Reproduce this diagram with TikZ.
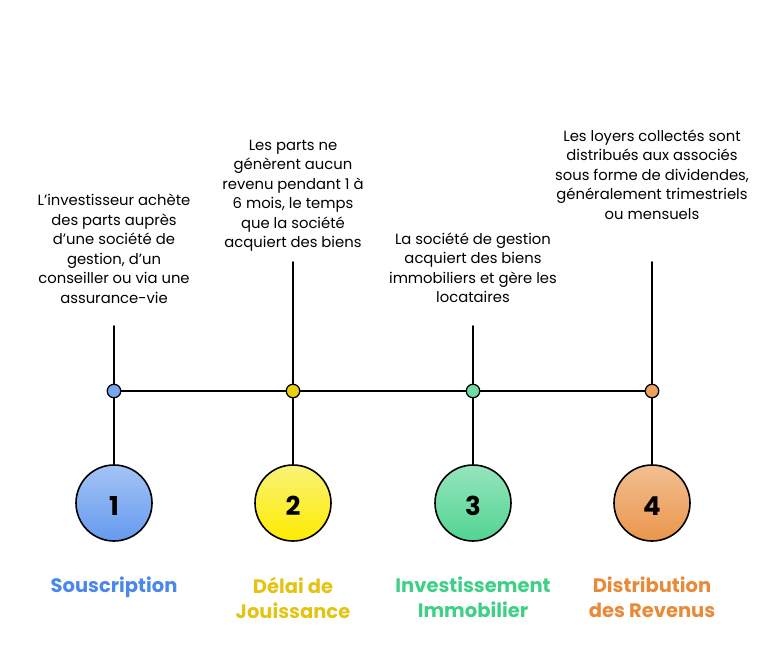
\documentclass[tikz,border=0pt]{standalone}
\usepackage{fontspec}
\setmainfont{Poppins}
\usetikzlibrary{positioning}

\definecolor{souscBlue}{HTML}{4A88EC}
\definecolor{delaiGold}{HTML}{E3C414}
\definecolor{investGreen}{HTML}{3FCF86}
\definecolor{distribOrange}{HTML}{E88A38}

\tikzset{
  stem/.style={line width=1.6pt,black},
  dot/.style={circle,draw,line width=1.3pt,minimum size=13.5pt,inner sep=0pt},
  stepnum/.style={circle,draw,line width=1.6pt,minimum size=76pt,inner sep=0pt,
    text height=24pt,text depth=0pt,
    font=\fontsize{26}{30}\selectfont\bfseries},
  desc/.style={align=center,inner sep=0pt,anchor=north,
    font=\fontsize{14.8}{19.5}\selectfont},
  steptitle/.style={align=center,inner sep=0pt,anchor=north,
    font=\fontsize{19.5}{25}\selectfont\bfseries},
}

\begin{document}
\begin{tikzpicture}[x=1pt,y=-1pt,line cap=round,line join=round]
  \useasboundingbox (0,0) rectangle (768,667);
  % texts above the line
  \node[desc] (desc1) at (114,194) {L'investisseur achète\\des parts auprès\\d'une société de\\gestion, d'un\\conseiller ou via une\\assurance-vie};
  \node[desc] (desc2) at (293,139.5) {Les parts ne\\génèrent aucun\\revenu pendant 1 à\\6 mois, le temps\\que la société\\acquiert des biens};
  \node[desc] (desc3) at (473,232.5) {La société de gestion\\acquiert des biens\\immobiliers et gère les\\locataires};
  \node[desc] (desc4) at (652,129.5) {Les loyers collectés sont\\distribués aux associés\\sous forme de dividendes,\\généralement trimestriels\\ou mensuels};
  \coordinate (top1) at (114,326);
  \coordinate (top2) at (293,262);
  \coordinate (top3) at (473,326);
  \coordinate (top4) at (652,262);
  % timeline dots
  \node[dot,fill=souscBlue!75] (dot1) at (114,391) {};
  \node[dot,fill=delaiGold!80!yellow] (dot2) at (293,391) {};
  \node[dot,fill=investGreen!75] (dot3) at (473,391) {};
  \node[dot,fill=distribOrange!80] (dot4) at (652,391) {};
  % numbered circles
  \node[stepnum,top color=souscBlue!50,bottom color=souscBlue!85] (num1) at (114,503) {1};
  \node[stepnum,top color=yellow!60!delaiGold!55,bottom color=yellow!85!orange] (num2) at (293,503) {2};
  \node[stepnum,top color=investGreen!55,bottom color=investGreen!90] (num3) at (473,503) {3};
  \node[stepnum,top color=distribOrange!55,bottom color=distribOrange!90] (num4) at (652,503) {4};
  \draw[stem] (dot1) -- (dot2) -- (dot3) -- (dot4);
  \draw[stem] (top1) -- (dot1);
  \draw[stem] (top2) -- (dot2);
  \draw[stem] (top3) -- (dot3);
  \draw[stem] (top4) -- (dot4);
  \draw[stem] (dot1) -- (num1);
  \draw[stem] (dot2) -- (num2);
  \draw[stem] (dot3) -- (num3);
  \draw[stem] (dot4) -- (num4);
  % step titles
  \node[steptitle,text=souscBlue] (title1) at (114,577) {Souscription};
  \node[steptitle,text=delaiGold] (title2) at (293,577) {Délai de\\Jouissance};
  \node[steptitle,text=investGreen] (title3) at (473,577) {Investissement\\Immobilier};
  \node[steptitle,text=distribOrange] (title4) at (652,577) {Distribution\\des Revenus};
\end{tikzpicture}
\end{document}
